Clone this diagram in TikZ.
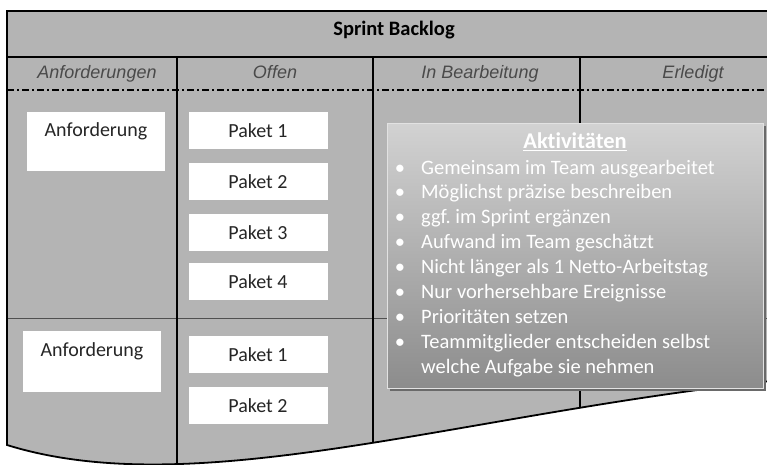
\documentclass[tikz,border=0pt]{standalone}
\usepackage{fontspec}
\setmainfont{Carlito}[Ligatures=NoCommon]
\newfontfamily\hdrfont{Liberation Sans}
\frenchspacing
\definecolor{bggray}{HTML}{B4B4B4}
\definecolor{rowgray}{HTML}{505050}
\definecolor{hdrtext}{HTML}{4A4A4A}
\definecolor{boxtext}{HTML}{262626}
\definecolor{akttop}{HTML}{D2D2D2}
\definecolor{aktbot}{HTML}{8C8C8C}
\definecolor{aktedge}{HTML}{E2E2E2}
\definecolor{shadowgray}{HTML}{6A6A6A}
\tikzset{
  frameline/.style={draw=black, line width=1.8pt},
  divline/.style={draw=black, line width=1.8pt},
  rowline/.style={draw=rowgray, line width=1pt},
  dashdotline/.style={draw=black, line width=1.4pt, dash pattern=on 7pt off 3pt on 2pt off 3pt},
  colhead/.style={anchor=base, inner sep=0pt, text=hdrtext, font=\hdrfont\itshape\fontsize{18}{21}\selectfont},
  reqbox/.style={fill=white, draw=none, inner sep=0pt, minimum width=138pt, text=boxtext, font=\fontsize{20}{24}\selectfont},
  pkbox/.style={fill=white, draw=none, inner sep=0pt, minimum width=139pt, minimum height=37pt, text=boxtext, font=\fontsize{20}{24}\selectfont},
  akttext/.style={inner sep=0pt, text=white, font=\fontsize{20.5}{25}\selectfont},
}
\begin{document}
\begin{tikzpicture}[x=1pt,y=-1pt]
\useasboundingbox (0,0) rectangle (767,465);
\clip (0,0) rectangle (767,465);
% frame background
\fill[bggray] (7,11) -- (800,11) -- (800,378) .. controls (470,410) and (200,505) .. (7,445) -- cycle;
\begin{scope}
  \clip (7,11) -- (800,11) -- (800,378) .. controls (470,410) and (200,505) .. (7,445) -- cycle;
  \draw[rowline] (7,318) -- (800,318);
  \draw[divline] (177,57) -- (177,520);
  \draw[divline] (373,57) -- (373,520);
  \draw[divline] (580,57) -- (580,520);
\end{scope}
\draw[frameline] (800,11) -- (7,11) -- (7,445) .. controls (200,505) and (470,410) .. (800,378);
\draw[frameline] (7,57) -- (800,57);
\draw[dashdotline] (7,90) -- (800,90);
% titles
\node[anchor=base, inner sep=0pt, text=black, font=\bfseries\fontsize{20.5}{24}\selectfont] (title) at (394,36) {Sprint Backlog};
\node[colhead] (h1) at (97,79) {Anforderungen};
\node[colhead] (h2) at (275,79) {Offen};
\node[colhead] (h3) at (480,79) {In Bearbeitung};
\node[colhead] (h4) at (693,79) {Erledigt};
% requirement boxes
\node[reqbox, anchor=north, text height=24pt, text depth=35pt] (req1) at (96,112) {Anforderung};
\node[reqbox, anchor=north, text height=25pt, text depth=36pt] (req2) at (92,331) {Anforderung};
% package boxes
\node[pkbox, anchor=north] (p11) at (258,112) {Paket 1};
\node[pkbox, anchor=north] (p12) at (258,163) {Paket 2};
\node[pkbox, anchor=north] (p13) at (258,214) {Paket 3};
\node[pkbox, anchor=north] (p14) at (258,263) {Paket 4};
\node[pkbox, anchor=north] (p21) at (258,336) {Paket 1};
\node[pkbox, anchor=north] (p22) at (258,387) {Paket 2};
% activities box
\fill[shadowgray] (390,126) rectangle (766,391);
\node[anchor=north west, minimum width=376pt, minimum height=265pt, inner sep=0pt,
      top color=akttop, bottom color=aktbot, draw=aktedge, line width=0.8pt] (akt) at (387,123) {};
\node[akttext, anchor=base, font=\bfseries\fontsize{22.5}{26}\selectfont] (akttitle) at (575,149) {\underline{Aktivitäten}};
\foreach \t [count=\i] in {Gemeinsam im Team ausgearbeitet, Möglichst präzise beschreiben, ggf. im Sprint ergänzen, Aufwand im Team geschätzt, Nicht länger als 1 Netto-Arbeitstag, Nur vorhersehbare Ereignisse, Prioritäten setzen, Teammitglieder entscheiden selbst}{
  \node[akttext, anchor=base] (bul\i) at (400,{174+(\i-1)*24.9}) {•};
  \node[akttext, anchor=base west] (itm\i) at (421,{174+(\i-1)*24.9}) {\t};
}
\node[akttext, anchor=base west] (itm9) at (421,373.2) {welche Aufgabe sie nehmen};
\end{tikzpicture}
\end{document}
